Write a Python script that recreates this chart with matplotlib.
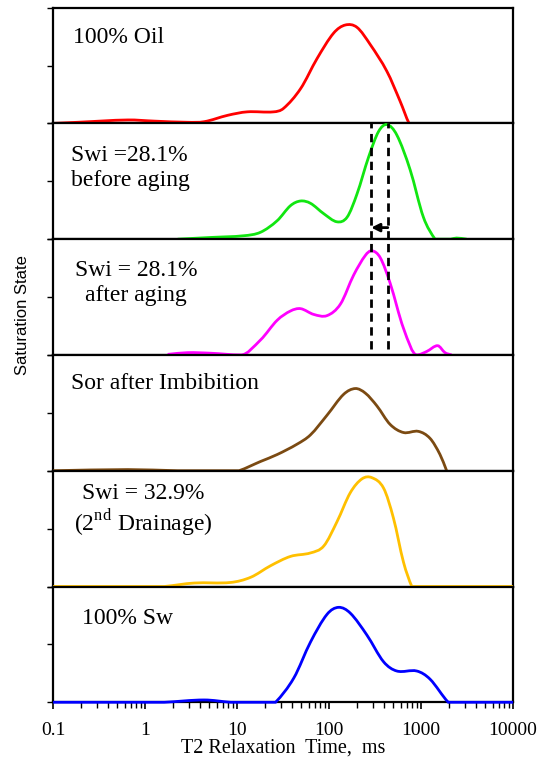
import numpy as np
import matplotlib.pyplot as plt
from matplotlib.path import Path
from matplotlib.patches import PathPatch

plt.rcParams['font.family'] = ['Liberation Serif', 'DejaVu Serif']
plt.rcParams['mathtext.fontset'] = 'custom'
plt.rcParams['mathtext.rm'] = 'Liberation Serif'

# T2 distributions (T2 in ms, amplitude 0..1 of panel)
t_oil = [0.1, 0.187, 0.65, 1.26, 2.9, 4.4, 7.9, 12.9, 25, 32, 49, 74, 112, 150, 201, 281, 425, 593, 741, 10000]
s_oil = [0, 0.01, 0.03, 0.02, 0.01, 0.015, 0.07, 0.10, 0.10, 0.13, 0.30, 0.56, 0.78, 0.85, 0.83, 0.68, 0.45, 0.19, 0, 0]

t_before = [2.26, 5.19, 11.9, 18.0, 27.3, 38.1, 49.0, 62.8, 87.6, 122, 157, 201, 269, 345, 425, 545, 760, 1060, 1419, 2100, 2433, 3125]
s_before = [0, 0.015, 0.03, 0.06, 0.16, 0.29, 0.33, 0.31, 0.22, 0.15, 0.19, 0.39, 0.71, 0.93, 0.99, 0.90, 0.60, 0.19, 0, 0, 0.01, 0]

t_after = [1.76, 2.9, 5.19, 11.0, 18.0, 27.3, 38.1, 49.0, 68.2, 95.1, 133, 185, 248, 292, 360, 461, 644, 898, 1151, 1517, 1820, 2148]
s_after = [0.005, 0.02, 0.015, 0, 0.13, 0.30, 0.38, 0.40, 0.35, 0.34, 0.44, 0.69, 0.86, 0.90, 0.84, 0.62, 0.23, 0, 0.03, 0.08, 0.02, 0]

t_sor = [0.1, 0.65, 2.26, 10.5, 18.0, 27.3, 45.0, 62.8, 95.1, 144, 193, 248, 331, 461, 644, 935, 1250, 1606, 1896]
s_sor = [0, 0.01, 0, 0, 0.08, 0.14, 0.23, 0.31, 0.48, 0.66, 0.71, 0.67, 0.56, 0.40, 0.33, 0.34, 0.28, 0.14, 0]

t_drain = [0.1, 1.62, 3.42, 8.53, 14.1, 23.2, 38.1, 62.8, 87.6, 122, 170, 228, 292, 391, 501, 644, 793, 10000]
s_drain = [0, 0, 0.03, 0.035, 0.08, 0.18, 0.26, 0.29, 0.35, 0.56, 0.81, 0.93, 0.94, 0.85, 0.59, 0.21, 0, 0]

t_sw = [0.1, 1.62, 4.4, 8.53, 26.2, 41.4, 62.8, 95.1, 127, 170, 258, 391, 545, 898, 1250, 1976, 10000]
s_sw = [0, 0, 0.02, 0, 0, 0.21, 0.52, 0.76, 0.82, 0.77, 0.58, 0.35, 0.27, 0.27, 0.20, 0, 0]

# peak T2 before / after aging (dashed markers)
peak_before = 435
peak_after = 287

panels = [
    (t_oil, s_oil, '#ff0000', '100% Oil'),
    (t_before, s_before, '#11e611', 'Swi =28.1%\nbefore aging'),
    (t_after, s_after, '#ff00ff', 'Swi = 28.1%\nafter aging'),
    (t_sor, s_sor, '#7b4a12', 'Sor after Imbibition'),
    (t_drain, s_drain, '#ffc000', 'Swi = 32.9%\n(2$^{\\rm nd}$ Drainage)'),
    (t_sw, s_sw, '#0000ff', '100% Sw'),
]


def smooth_path(t, s):
    # smoothed line through the read points (bezier in log-x space)
    x = np.log10(t)
    y = np.asarray(s, float)
    h = np.diff(x)
    d = np.diff(y) / h
    n = len(x)
    m = np.zeros(n)
    m[0], m[-1] = d[0], d[-1]
    for i in range(1, n - 1):
        a, b = d[i - 1], d[i]
        if y[i] == 0 and (a == 0) != (b == 0):
            m[i] = 0.8 * (a + b)          # corner where the curve meets the baseline
        elif y[i] == 0:
            m[i] = 0
        else:
            m[i] = (y[i + 1] - y[i - 1]) / (x[i + 1] - x[i - 1])
    verts = [(x[0], y[0])]
    codes = [Path.MOVETO]
    for i in range(n - 1):
        verts += [(x[i] + h[i] / 3, max(y[i] + m[i] * h[i] / 3, 0)),
                  (x[i + 1] - h[i] / 3, max(y[i + 1] - m[i + 1] * h[i] / 3, 0)),
                  (x[i + 1], y[i + 1])]
        codes += [Path.CURVE4] * 3
    verts = np.array(verts)
    verts[:, 0] = 10 ** verts[:, 0]
    return Path(verts, codes)


fig, axes = plt.subplots(6, 1, sharex=True, figsize=(5.47, 7.65), dpi=100)
fig.subplots_adjust(left=0.097, right=0.938, top=0.99, bottom=0.082, hspace=0)

for ax, (t, s, c, label) in zip(axes, panels):
    ax.set_xscale('log')
    ax.set_xlim(0.1, 10000)
    ax.set_ylim(0, 1)
    ax.add_patch(PathPatch(smooth_path(t, s), fill=False, edgecolor=c, lw=2,
                           zorder=3, clip_on=False, transform=ax.transData))
    ax.set_yticks([0, 0.5, 1])
    ax.set_yticklabels([])
    ax.tick_params(axis='y', direction='out', length=4, width=1)
    ax.tick_params(axis='x', which='both', bottom=False, labelbottom=False)
    for sp in ax.spines.values():
        sp.set_linewidth(1.6)

# panel labels
fs = 17
axes[0].text(0.043, 0.74, panels[0][3], transform=axes[0].transAxes, fontsize=fs, va='center')
axes[1].text(0.038, 0.615, panels[1][3], transform=axes[1].transAxes, fontsize=fs, va='center', linespacing=1.25)
axes[2].text(0.18, 0.625, panels[2][3], transform=axes[2].transAxes, fontsize=fs, va='center',
             ha='center', multialignment='center', linespacing=1.25)
axes[3].text(0.04, 0.754, panels[3][3], transform=axes[3].transAxes, fontsize=fs, va='center')
axes[4].text(0.195, 0.65, panels[4][3], transform=axes[4].transAxes, fontsize=fs, va='center',
             ha='center', multialignment='center', linespacing=1.15)
axes[5].text(0.063, 0.727, panels[5][3], transform=axes[5].transAxes, fontsize=fs, va='center')

# dashed peak markers spanning panels 2 and 3
for xv in (peak_before, peak_after):
    axes[1].axvline(xv, ymin=0, ymax=1, color='k', ls=(0, (3, 2)), lw=2, zorder=4)
    axes[2].axvline(xv, ymin=0.05, ymax=1, color='k', ls=(0, (3, 2)), lw=2, zorder=4)
axes[1].annotate('', xy=(peak_after, 0.1), xytext=(peak_before, 0.1),
                 arrowprops=dict(arrowstyle='-|>', color='k', lw=2, mutation_scale=12,
                                 shrinkA=0, shrinkB=0))

bottom = axes[-1]
bottom.tick_params(axis='x', which='both', bottom=True, labelbottom=True, direction='out')
bottom.tick_params(axis='x', which='major', length=5, width=1.2, labelsize=14, pad=9)
bottom.tick_params(axis='x', which='minor', length=4, width=1)
bottom.set_xticks([0.1, 1, 10, 100, 1000, 10000])
bottom.set_xticklabels(['0.1', '1', '10', '100', '1000', '10000'])
bottom.set_xlabel('T2 Relaxation  Time,  ms', fontsize=14.5, labelpad=0)

fig.text(0.042, 0.588, 'Saturation State', rotation=90, va='center', ha='center',
         fontsize=12, family='Liberation Sans')

fig.savefig('out.png', dpi=100)
